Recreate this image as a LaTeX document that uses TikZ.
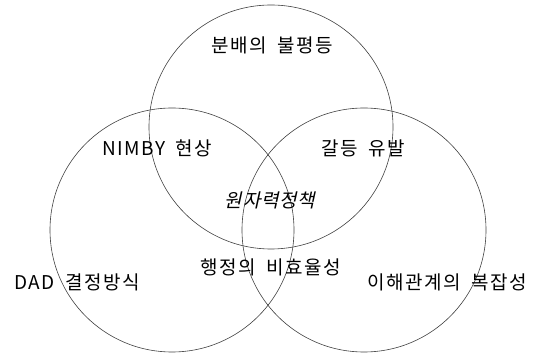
\documentclass[tikz,border=0pt]{standalone}
\usepackage{fontspec}
\setmainfont[LetterSpace=8,WordSpace=1.8]{Noto Sans CJK KR}
\newfontfamily\slantfont[FakeSlant=0.22,LetterSpace=4]{Noto Sans CJK KR}
\usepackage{tikz}
\usetikzlibrary{positioning}

\begin{document}
\begin{tikzpicture}
  [x=1pt,y=1pt,every node/.style={font=\fontsize{19}{21}\selectfont,inner sep=0pt},
   ring/.style={circle,draw=black!75,line width=.6pt,minimum size=244pt}]
  \useasboundingbox (0,0) rectangle (538,353);
  % the three sets
  \node[ring] (c1) at (271,226) {};
  \node[ring] (c2) at (172,123) {};
  \node[ring] (c3) at (364,123) {};

  \node (t1) at (272,308) {분배의 불평등};
  \node (t2) at (77,71)   {DAD 결정방식};
  \node (t3) at (447,71)  {이해관계의 복잡성};
  \node (t12) at (157,205) {NIMBY 현상};
  \node (t13) at (363,205) {갈등 유발};
  \node (t23) at (271,86)  {행정의 비효율성};
  \node (t123) at (270,153) {\slantfont 원자력정책};

\end{tikzpicture}
\end{document}
